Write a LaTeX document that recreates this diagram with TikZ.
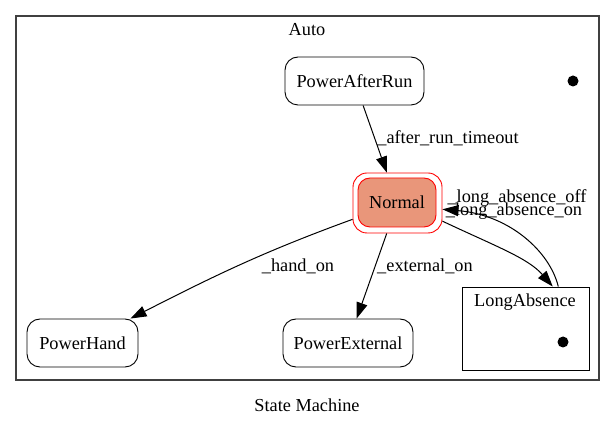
\documentclass[tikz,border=0pt]{standalone}
\usepackage{fontspec}
\setmainfont{Liberation Serif}
\usepackage{tikz}
\usetikzlibrary {arrows.meta,
                 positioning}
\definecolor{normalfill}{RGB}{233,150,122}
\tikzset{
        state/.style={draw, rectangle, rounded corners=13pt, line width=0.9pt,
        minimum height=48pt, inner sep=0pt},
        active/.style={state, draw=red, fill=normalfill, rounded corners=12pt,
        minimum width=78pt, minimum height=49pt},
        activering/.style={draw=red, rectangle, rounded corners=14pt, line width=0.9pt,
        minimum width=89pt, minimum height=60pt, inner sep=0pt},
        cluster/.style={draw=black!75, rectangle, line width=1.3pt, inner sep=0pt},
        subcluster/.style={draw, rectangle, line width=0.9pt, inner sep=0pt},
        lbl/.style={inner sep=0pt},
        finaldot/.style={circle, fill, inner sep=0pt, minimum size=11pt},
        trans/.style={-{Triangle[length=16pt, width=11pt]}, line width=1pt},
 }

\begin{document}
\begin{tikzpicture}[x=1pt, y=-1pt, font=\fontsize{18.3}{22}\selectfont]
    \useasboundingbox (0,0) rectangle (616,427);

    \node[cluster, minimum width=583pt, minimum height=364pt] (auto) at (307.5,198) {};
    \node[lbl] (autotitle) at (307,30) {Auto};

    \node[state, minimum width=139pt] (pwrafter) at (354.5,81) {PowerAfterRun};
    \node[finaldot] (autodot) at (573,81) {};

    \node[activering] (normalring) at (397.5,203) {};
    \node[active] (normal) at (397,202.5) {Normal};

    \node[state, minimum width=111pt] (powerhand) at (82.5,343) {PowerHand};
    \node[state, minimum width=130pt] (powerext) at (348,343) {PowerExternal};

    \node[subcluster, minimum width=127pt, minimum height=83pt] (longabs) at (525.5,328.5) {};
    \node[lbl] (longabstitle) at (525,302) {LongAbsence};
    \node[finaldot] (longabsdot) at (563,342) {};

    \draw[trans] (pwrafter) -- (normalring);
    \draw[trans] (normalring) to[out=200, in=27] (powerhand);
    \draw[trans] (normalring) -- (powerext);
    \draw[trans] (normalring.-22) .. controls (495,246) and (528,258) .. (longabs.57);
    \draw[trans] (longabs.52) .. controls (550,252) and (510,215) .. (normalring.-8);

    \node[lbl] (lblafter) at (448,138) {\_after\_run\_timeout};
    \node[lbl] (lblhand) at (298,266) {\_hand\_on};
    \node[lbl] (lblext) at (425,266) {\_external\_on};
    \node[lbl] (lbloff) at (517,198) {\_long\_absence\_off};
    \node[lbl] (lblon) at (514,211) {\_long\_absence\_on};

    \node[lbl] (caption) at (307,405) {State Machine};
\end{tikzpicture}
\end{document}
